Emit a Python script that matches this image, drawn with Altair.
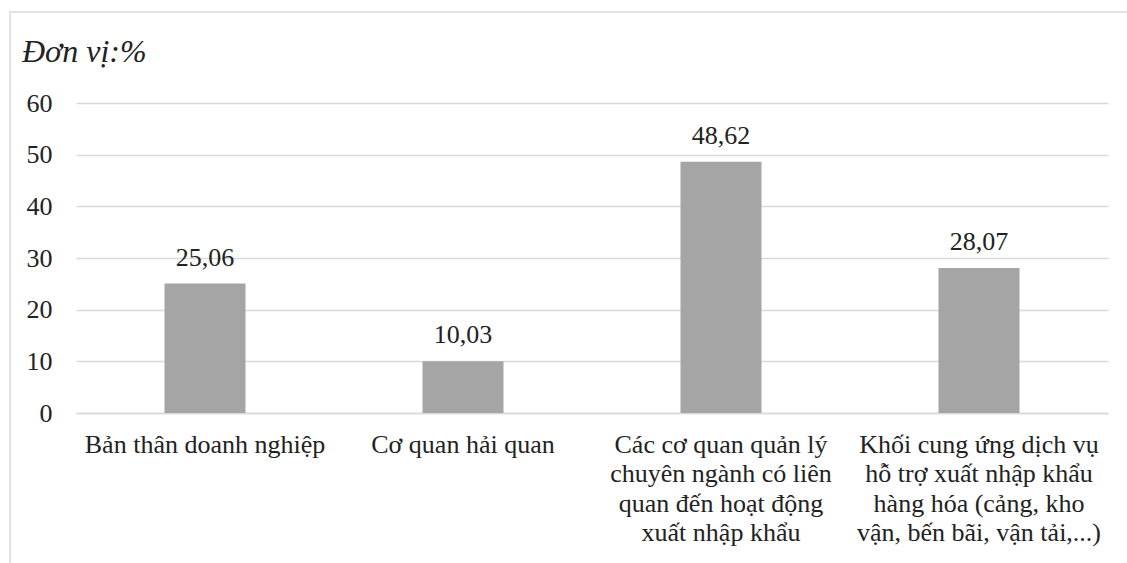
import altair as alt
import pandas as pd

# Survey shares by responsible party (%)
categories = [
    "Bản thân doanh nghiệp",
    "Cơ quan hải quan",
    "Các cơ quan quản lý|chuyên ngành có liên|quan đến hoạt động|xuất nhập khẩu",
    "Khối cung ứng dịch vụ|hỗ trợ xuất nhập khẩu|hàng hóa (cảng, kho|vận, bến bãi, vận tải,...)",
]
values = [25.06, 10.03, 48.62, 28.07]
value_labels = ["25,06", "10,03", "48,62", "28,07"]
y_ticks = [0, 10, 20, 30, 40, 50, 60]
unit_text = "Đơn vị:%"

df = pd.DataFrame({"cat": categories, "val": values, "lbl": value_labels})

FONT = "Liberation Serif"
TEXT = "#222222"
GRID = "#d9d9d9"

x_enc = alt.X(
    "cat:N",
    sort=categories,
    title=None,
    scale=alt.Scale(paddingInner=0.686, paddingOuter=0.343),
    axis=alt.Axis(
        labelAngle=0,
        labelExpr="split(datum.label, '|')",
        labelFont=FONT,
        labelFontSize=26,
        labelColor=TEXT,
        labelLineHeight=29.5,
        labelPadding=18,
        labelBaseline="top",
        ticks=False,
        domainColor=GRID,
        domainWidth=1.5,
        labelLimit=400,
    ),
)
y_enc = alt.Y(
    "val:Q",
    title=None,
    scale=alt.Scale(domain=[0, 60], nice=False),
    axis=alt.Axis(
        values=y_ticks,
        labelFont=FONT,
        labelFontSize=26,
        labelColor=TEXT,
        labelPadding=24,
        ticks=False,
        domain=False,
        gridColor=GRID,
        gridWidth=1.5,
    ),
)

bars = alt.Chart(df).mark_bar(color="#a5a5a5").encode(x=x_enc, y=y_enc)

labels = alt.Chart(df).mark_text(
    baseline="alphabetic", dy=-18, font=FONT, fontSize=26, color=TEXT
).encode(x=alt.X("cat:N", sort=categories), y="val:Q", text="lbl:N")

# Outer frame around the whole figure
frame = alt.Chart(alt.Data(values=[{}])).mark_rect(
    fill=None, stroke=GRID, strokeWidth=1.5
).encode(
    x=alt.value(-66), x2=alt.value(1070), y=alt.value(-91), y2=alt.value(480)
)

# Unit caption in the top-left corner
unit = alt.Chart(alt.Data(values=[{"t": unit_text}])).mark_text(
    align="left", baseline="alphabetic", font=FONT, fontSize=32,
    fontStyle="italic", color=TEXT
).encode(x=alt.value(-54), y=alt.value(-41), text="t:N")

chart = (
    alt.layer(frame, bars, labels, unit)
    .properties(
        width=1032,
        height=310,
        autosize=alt.AutoSizeParams(type="none"),
        padding={"left": 76, "top": 103, "right": 19, "bottom": 150},
        background="white",
    )
    .configure_view(stroke=None)
)

chart.save("out.html", embed_options={"renderer": "svg", "actions": False})
